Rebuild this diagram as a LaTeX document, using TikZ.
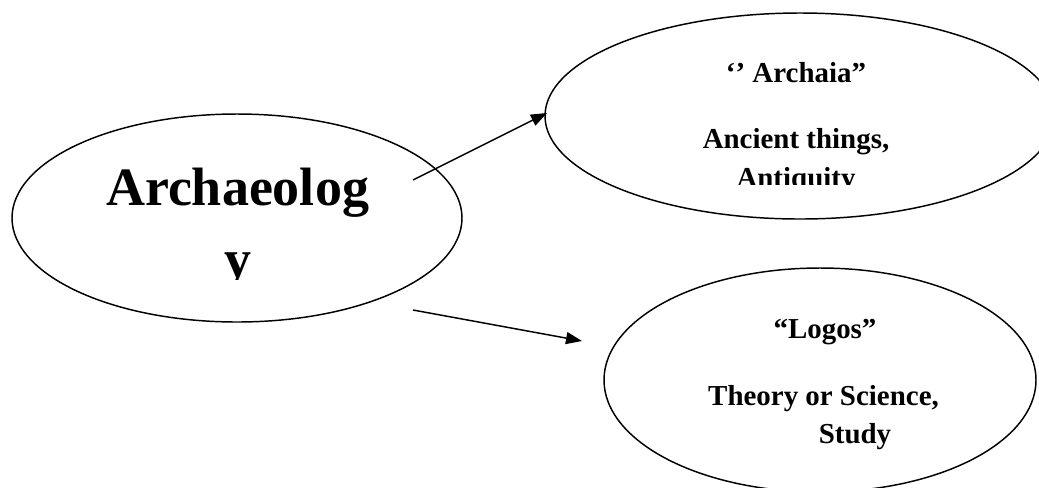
\documentclass[tikz,border=0pt]{standalone}
\usepackage{fontspec}
\setmainfont{Liberation Serif}
\usetikzlibrary{shapes.geometric,arrows.meta}
\tikzset{
  bubble/.style={draw, ellipse, line width=1.1pt, inner sep=0pt},
  lbl/.style={anchor=base, inner sep=0pt, font=\bfseries\fontsize{21.7}{26}\selectfont},
  biglbl/.style={anchor=base, inner sep=0pt, font=\bfseries\fontsize{40.5}{48}\selectfont},
  arr/.style={-{Triangle[length=12pt,width=9pt]}, line width=1.1pt}
}
\begin{document}
\begin{tikzpicture}[x=0.75pt,y=-0.75pt]
\useasboundingbox (0,0) rectangle (1039,487);
\clip (0,0) rectangle (1039,487);
\fill[white] (0,0) rectangle (1039,487);
% ellipses
\node[bubble, minimum width=337.5pt, minimum height=156pt] (arch) at (237,218) {};
\node[bubble, minimum width=382.5pt, minimum height=154.5pt] (archaia) at (800,116) {};
\node[bubble, minimum width=324pt, minimum height=168pt] (logos) at (820,380) {};
% texts
\node[biglbl] (t1) at (237.5,205) {Archaeolog};
\begin{scope}
\clip (0,240) rectangle (480,279);
\node[biglbl] (t2) at (237.5,277) {y};
\end{scope}
\node[lbl] (t3) at (796,82) {‘’ Archaia”};
\node[lbl] (t4) at (796,148) {Ancient things,};
\begin{scope}
\clip (600,150) rectangle (1000,184);
\node[lbl] (t5) at (796,187) {Antiquity};
\end{scope}
\node[lbl] (t6) at (825,338) {“Logos”};
\node[lbl] (t7) at (823.5,405) {Theory or Science,};
\node[lbl] (t8) at (855,443) {Study};
% connectors
\coordinate (s1) at (413,180);
\coordinate (s2) at (413,310);
\coordinate (e1) at (547,113);
\coordinate (e2) at (582,341);
\draw[arr] (s1) -- (e1);
\draw[arr] (s2) -- (e2);
\end{tikzpicture}
\end{document}
